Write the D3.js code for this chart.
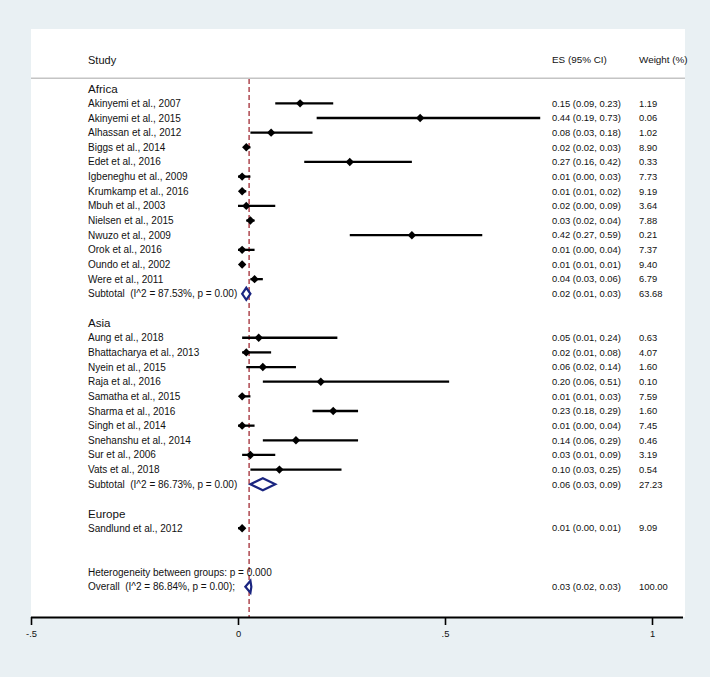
<!DOCTYPE html>
<html>
<head>
<meta charset="utf-8">
<script src="https://cdn.jsdelivr.net/npm/d3@7"></script>
<style>
  html, body { margin: 0; padding: 0; background: #e9f0f3; }
  svg { display: block; }
  text { font-family: "Liberation Sans", Arial, Helvetica, sans-serif; fill: #111; white-space: pre; }
</style>
</head>
<body>
<svg id="chart" width="710" height="677"></svg>
<script>
// ---------------- DATA ----------------
const groups = ["Africa", "Asia", "Europe"];

const africaStudies = ["Akinyemi et al., 2007","Akinyemi et al., 2015","Alhassan et al., 2012","Biggs et al., 2014","Edet et al., 2016","Igbeneghu et al., 2009","Krumkamp et al., 2016","Mbuh et al., 2003","Nielsen et al., 2015","Nwuzo et al., 2009","Orok et al., 2016","Oundo et al., 2002","Were et al., 2011"];
const africaES     = [0.15,0.44,0.08,0.02,0.27,0.01,0.01,0.02,0.03,0.42,0.01,0.01,0.04];
const africaLo     = [0.09,0.19,0.03,0.02,0.16,0.00,0.01,0.00,0.02,0.27,0.00,0.01,0.03];
const africaHi     = [0.23,0.73,0.18,0.03,0.42,0.03,0.02,0.09,0.04,0.59,0.04,0.01,0.06];
const africaWeight = [1.19,0.06,1.02,8.90,0.33,7.73,9.19,3.64,7.88,0.21,7.37,9.40,6.79];

const asiaStudies = ["Aung et al., 2018","Bhattacharya et al., 2013","Nyein et al., 2015","Raja et al., 2016","Samatha et al., 2015","Sharma et al., 2016","Singh et al., 2014","Snehanshu et al., 2014","Sur et al., 2006","Vats et al., 2018"];
const asiaES     = [0.05,0.02,0.06,0.20,0.01,0.23,0.01,0.14,0.03,0.10];
const asiaLo     = [0.01,0.01,0.02,0.06,0.01,0.18,0.00,0.06,0.01,0.03];
const asiaHi     = [0.24,0.08,0.14,0.51,0.03,0.29,0.04,0.29,0.09,0.25];
const asiaWeight = [0.63,4.07,1.60,0.10,7.59,1.60,7.45,0.46,3.19,0.54];

const europeStudies = ["Sandlund et al., 2012"];
const europeES     = [0.01];
const europeLo     = [0.00];
const europeHi     = [0.01];
const europeWeight = [9.09];

// subtotals
const subtotalES     = [0.02, 0.06];
const subtotalLo     = [0.01, 0.03];
const subtotalHi     = [0.03, 0.09];
const subtotalWeight = [63.68, 27.23];
const subtotalI2     = ["87.53%", "86.73%"];
const subtotalP      = ["0.00", "0.00"];

const overallES = 0.03, overallLo = 0.02, overallHi = 0.03, overallWeight = 100.00;
const overallI2 = "86.84%", overallP = "0.00";
const heterogeneityP = "0.000";

const xTicks = [-0.5, 0, 0.5, 1];
const xTickLabels = ["-.5", "0", ".5", "1"];

// ---------------- BUILD ROWS ----------------
const rows = [];
let r = 0;
function addGroup(name, studies, es, lo, hi, w, subIdx) {
  rows.push({type: "group", label: name, row: r++});
  studies.forEach((s, i) => rows.push({type: "study", label: s, es: es[i], lo: lo[i], hi: hi[i], w: w[i], row: r++}));
  if (subIdx != null) {
    rows.push({type: "subtotal", label: "Subtotal  (I^2 = " + subtotalI2[subIdx] + ", p = " + subtotalP[subIdx] + ")",
      es: subtotalES[subIdx], lo: subtotalLo[subIdx], hi: subtotalHi[subIdx], w: subtotalWeight[subIdx], row: r++});
  }
  r++; // blank
}
addGroup(groups[0], africaStudies, africaES, africaLo, africaHi, africaWeight, 0);
addGroup(groups[1], asiaStudies, asiaES, asiaLo, asiaHi, asiaWeight, 1);
addGroup(groups[2], europeStudies, europeES, europeLo, europeHi, europeWeight, null);
r += 1;
rows.push({type: "het", label: "Heterogeneity between groups: p = " + heterogeneityP, row: r++});
rows.push({type: "overall", label: "Overall  (I^2 = " + overallI2 + ", p = " + overallP + ");",
  es: overallES, lo: overallLo, hi: overallHi, w: overallWeight, row: r++});

// ---------------- DRAW ----------------
const svg = d3.select("#chart");
const W = 710, H = 677;
const panel = {left: 31, right: 685, top: 29, bottom: 617};

const x = d3.scaleLinear().domain([-0.5, 1]).range([31, 652]);
const y = d3.scaleLinear().domain([0, r - 1]).range([88.7, 586.8]);

svg.append("rect").attr("x", 0).attr("y", 0).attr("width", W).attr("height", H).attr("fill", "#e9f0f3");
svg.append("rect").attr("x", panel.left).attr("y", panel.top)
  .attr("width", panel.right - panel.left).attr("height", panel.bottom - panel.top).attr("fill", "#fff");

// header
const colStudy = 88, colES = 552, colW = 639;
const headY = 60;
svg.append("text").attr("x", colStudy).attr("y", headY).attr("dy", "0.35em").attr("font-size", 11).text("Study");
svg.append("text").attr("x", colES).attr("y", headY).attr("dy", "0.35em").attr("font-size", 9.9).text("ES (95% CI)");
svg.append("text").attr("x", colW).attr("y", headY).attr("dy", "0.35em").attr("font-size", 9.9).text("Weight (%)");
svg.append("line").attr("x1", panel.left).attr("x2", panel.right).attr("y1", 78.3).attr("y2", 78.3)
  .attr("stroke", "#c4c4c4").attr("stroke-width", 1.5);

// reference dashed line at overall ES
svg.append("line").attr("x1", x(overallES) - 1.3).attr("x2", x(overallES) - 1.3)
  .attr("y1", 79).attr("y2", panel.bottom)
  .attr("stroke", "#b4535b").attr("stroke-width", 1.6).attr("stroke-dasharray", "5,3");

// labels
const g = svg.append("g");
rows.forEach(d => {
  const yy = y(d.row);
  const fs = d.type === "group" ? 11.6 : 10;
  g.append("text").attr("x", colStudy).attr("y", yy).attr("dy", "0.35em").attr("font-size", fs).text(d.label);
  if (d.es != null) {
    g.append("text").attr("x", colES).attr("y", yy).attr("dy", "0.35em").attr("font-size", 9.4)
      .text(d.es.toFixed(2) + " (" + d.lo.toFixed(2) + ", " + d.hi.toFixed(2) + ")");
    g.append("text").attr("x", colW).attr("y", yy).attr("dy", "0.35em").attr("font-size", 9.4)
      .text(d.w.toFixed(2));
  }
});

// study CIs + markers
const studies = rows.filter(d => d.type === "study");
svg.append("g").selectAll("line").data(studies).join("line")
  .attr("x1", d => x(d.lo)).attr("x2", d => x(d.hi))
  .attr("y1", d => y(d.row)).attr("y2", d => y(d.row))
  .attr("stroke", "#000").attr("stroke-width", 2.3);
const ms = 4.2;
svg.append("g").selectAll("path").data(studies).join("path")
  .attr("d", d => {
    const cx = x(d.es), cy = y(d.row);
    return `M${cx - ms},${cy}L${cx},${cy - ms}L${cx + ms},${cy}L${cx},${cy + ms}Z`;
  })
  .attr("fill", "#000");

// pooled diamonds
const pooled = rows.filter(d => d.type === "subtotal" || d.type === "overall");
svg.append("g").selectAll("path").data(pooled).join("path")
  .attr("d", d => {
    const cy = y(d.row), h = 6;
    let lo = x(d.lo), hi = x(d.hi);
    if (hi - lo < 6) { const c = (lo + hi) / 2; lo = c - 3; hi = c + 3; }
    return `M${lo},${cy}L${x(d.es)},${cy - h}L${hi},${cy}L${x(d.es)},${cy + h}Z`;
  })
  .attr("fill", "#fff").attr("stroke", "#1a2580").attr("stroke-width", 2.2).attr("stroke-linejoin", "miter");

// axis
const axis = d3.axisBottom(x).tickValues(xTicks).tickFormat((d, i) => xTickLabels[i]).tickSize(8).tickSizeOuter(0);
const ag = svg.append("g").attr("transform", `translate(0,${panel.bottom})`).call(axis);
ag.select(".domain").attr("d", `M${panel.left},0.5H${panel.right - 2}`).attr("stroke", "#000").attr("stroke-width", 1.8);
ag.selectAll(".tick line").attr("stroke", "#000").attr("stroke-width", 1.6);
ag.selectAll(".tick text").attr("font-size", 9.4).attr("fill", "#111").attr("y", 13)
  .attr("font-family", "Liberation Sans, Arial, sans-serif");
</script>
</body>
</html>
